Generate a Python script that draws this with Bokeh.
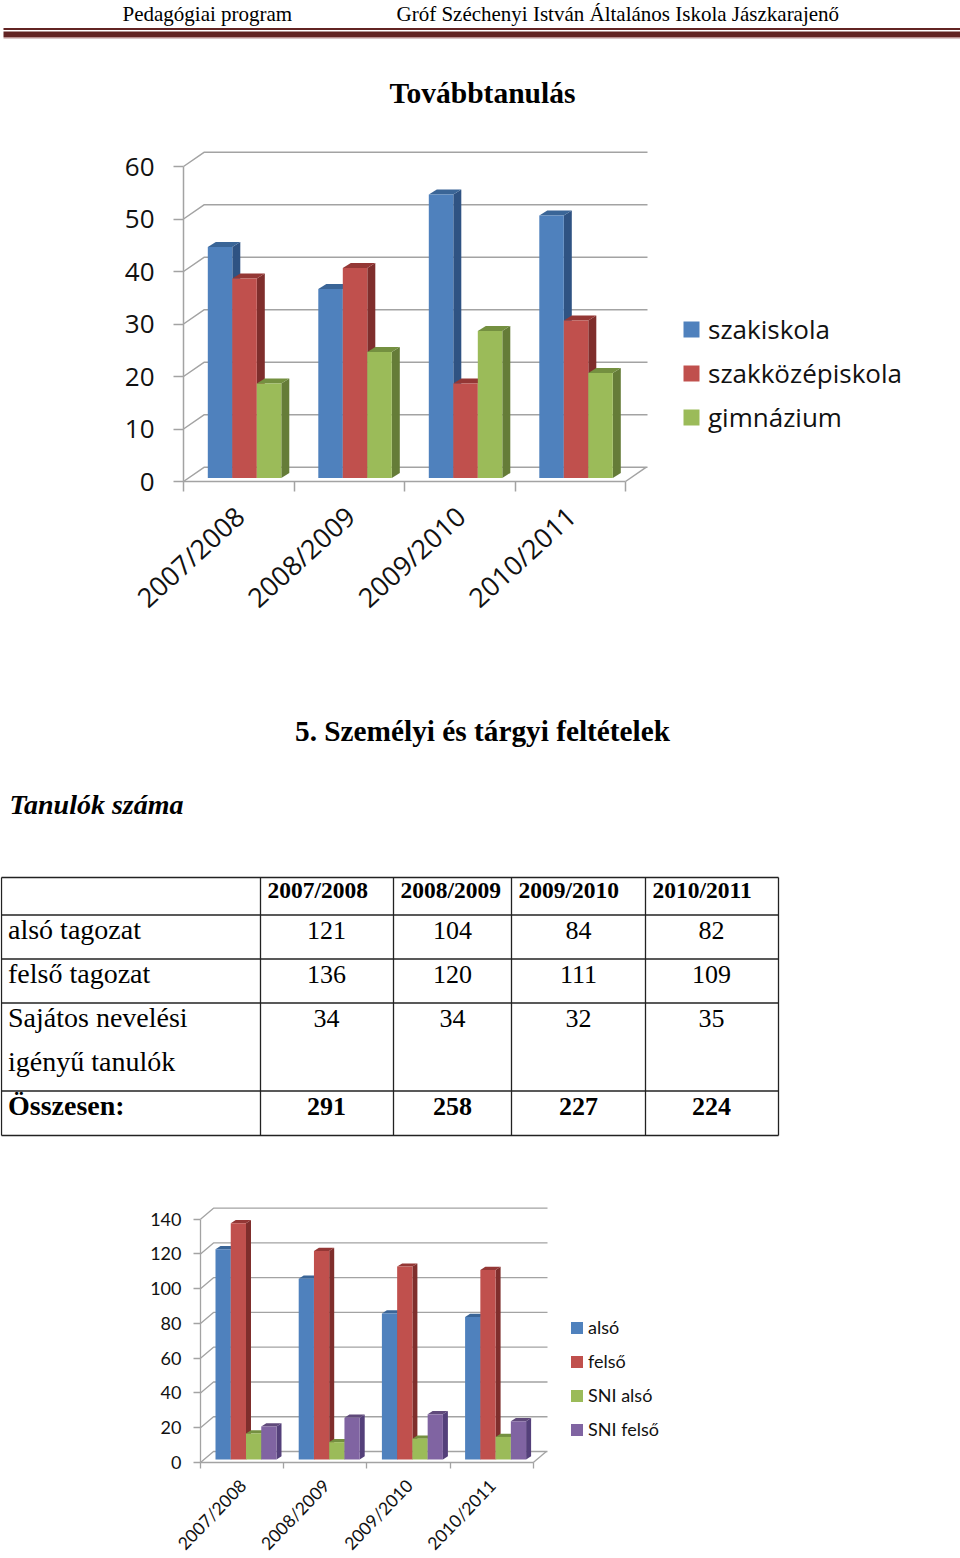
from bokeh.plotting import figure
from bokeh.layouts import column
from bokeh.models import (Range1d, LinearAxis, FixedTicker, Legend, LegendItem)
from bokeh.core.properties import value
from bokeh.embed import file_html
from bokeh.resources import INLINE

# ---- data ----
years = ["2007/2008", "2008/2009", "2009/2010", "2010/2011"]

szakiskola = [44, 36, 54, 50]
szakkozep = [38, 40, 18, 30]
gimnazium = [18, 24, 28, 20]

also = [121, 104, 84, 82]
felso = [136, 120, 111, 109]
sni_also = [15, 10, 12, 13]
sni_felso = [19, 24, 26, 22]

ticks_1 = [0, 10, 20, 30, 40, 50, 60]
ticks_2 = [0, 20, 40, 60, 80, 100, 120, 140]

row_labels = ["alsó tagozat", "felső tagozat", "Sajátos nevelési", "igényű tanulók", "Összesen:"]
t_also = ["121", "104", "84", "82"]
t_felso = ["136", "120", "111", "109"]
t_sni = ["34", "34", "32", "35"]
t_sum = ["291", "258", "227", "224"]

# ---- style ----
FRONT = {"blue": "#4F81BD", "red": "#C0504D", "green": "#9BBB59", "purple": "#8064A2"}
SIDE = {"blue": "#2F5383", "red": "#7F2E2C", "green": "#657C38", "purple": "#54407A"}
TOP = {"blue": "#3A6597", "red": "#943735", "green": "#749040", "purple": "#604A7B"}
GRID = "#A3A3A3"
SERIF = "Liberation Serif"
BASELINE_FIX = 0.35


def canvas(h):
    p = figure(width=960, height=h, x_range=Range1d(0, 960), y_range=Range1d(h, 0),
               output_backend="svg", toolbar_location=None, min_border=0, frame_align=False,
               x_axis_type=None, y_axis_type=None, outline_line_color=None)
    p.grid.visible = False
    return p


def label(p, x, y, txt, size, style="normal", align="left"):
    p.text([x], [y - BASELINE_FIX * size], text=[txt], text_font=value(SERIF), text_font_size=f"{size}px",
           text_font_style=style, text_align=align, text_baseline="alphabetic", text_color="#000000")


def chart(height, left, wall_right, top, bottom, px_cat, px_val, ticks, series, bar_w, bar_start,
          base_px, dx_bar, dy_bar, dx_wall, dy_wall, font, tick_size, cat_size, cat_shift, cat_angle,
          standoff, tick_len, cat_tick, leg_pos, leg_size, leg_h, leg_standoff, grid_w):
    p = figure(width=960, height=height, output_backend="svg", toolbar_location=None,
               x_range=Range1d(-left / px_cat, (960 - left) / px_cat),
               y_range=Range1d(-bottom / px_val, (height - top - bottom) / px_val), frame_align=False,
               x_axis_type=None, y_axis_type=None, outline_line_color=None,
               min_border_left=0, min_border_right=0, min_border_top=top, min_border_bottom=0)
    p.grid.visible = False
    wx, wy = dx_wall / px_cat, dy_wall / px_val
    xmax = (wall_right - left) / px_cat
    # walls
    p.multi_line([[0, wx, xmax] for t in ticks], [[t, t + wy, t + wy] for t in ticks],
                 line_color=GRID, line_width=grid_w)
    p.line([len(years), len(years) + wx], [0, wy], line_color=GRID, line_width=grid_w)
    # bars
    items = []
    base = base_px / px_val
    w = bar_w / px_cat
    bx, by = dx_bar / px_cat, dy_bar / px_val
    for s, (name, vals, col) in enumerate(series):
        lefts = [i + bar_start / px_cat + s * w for i in range(len(vals))]
        rights = [l + w for l in lefts]
        tops = [base + v for v in vals]
        p.patches([[r, r + bx, r + bx, r] for r in rights],
                  [[base, base + by, t + by, t] for t in tops],
                  fill_color=SIDE[col], line_color=None)
        p.patches([[l, l + bx, r + bx, r] for l, r in zip(lefts, rights)],
                  [[t, t + by, t + by, t] for t in tops],
                  fill_color=TOP[col], line_color=None)
        r = p.quad(left=lefts, right=rights, bottom=[base] * len(vals), top=tops,
                   fill_color=FRONT[col], line_color=None)
        items.append(LegendItem(label=name, renderers=[r]))
    # axes
    ya = LinearAxis(ticker=FixedTicker(ticks=ticks), bounds=(ticks[0], ticks[-1]), fixed_location=0,
                    axis_line_color=GRID, axis_line_width=grid_w,
                    major_tick_line_color=GRID, major_tick_line_width=grid_w, major_tick_in=0,
                    major_tick_out=tick_len, minor_tick_line_color=None,
                    major_label_text_font=font, major_label_text_font_size=tick_size,
                    major_label_text_color="#111111", major_label_standoff=standoff[0])
    p.add_layout(ya, "left")
    pos = [i + cat_shift for i in range(len(years))]
    xa = LinearAxis(ticker=FixedTicker(ticks=pos, minor_ticks=list(range(len(years) + 1))),
                    major_label_overrides={q: y for q, y in zip(pos, years)},
                    fixed_location=0, bounds=(0, len(years)),
                    axis_line_color=GRID, axis_line_width=grid_w, major_tick_line_color=None,
                    major_tick_in=0, major_tick_out=0,
                    minor_tick_line_color=GRID, minor_tick_line_width=grid_w, minor_tick_in=0,
                    minor_tick_out=cat_tick, major_label_orientation=cat_angle,
                    major_label_text_font=font, major_label_text_font_size=cat_size,
                    major_label_text_color="#111111", major_label_standoff=standoff[1])
    p.add_layout(xa, "below")
    leg = Legend(items=items, location=leg_pos, padding=0, margin=0, border_line_color=None,
                 background_fill_alpha=0, glyph_width=leg_h, glyph_height=leg_h,
                 spacing=leg_size[1], label_standoff=leg_standoff,
                 label_text_font=font, label_text_font_size=leg_size[0],
                 label_text_baseline="middle", label_text_color="#111111")
    p.add_layout(leg)
    return p


# ---- header ----
head = canvas(130)
label(head, 122, 21, "Pedagógiai program", 21)
label(head, 396, 21, "Gróf Széchenyi István Általános Iskola  Jászkarajenő", 21)
head.quad(left=[3], right=[960], top=[27.5], bottom=[29.5], fill_color="#622423", line_color=None)
head.quad(left=[3], right=[960], top=[31], bottom=[36.5], fill_color="#622423", line_color=None)
head.quad(left=[3], right=[960], top=[36.5], bottom=[38], fill_color="#B89090", line_color=None)
label(head, 482, 103, "Továbbtanulás", 29.5, "bold", "center")

# ---- chart 1 ----
c1 = chart(560, 183, 647, 20, 209, 110.5, 5.25, ticks_1,
           [("szakiskola", szakiskola, "blue"), ("szakközépiskola", szakkozep, "red"),
            ("gimnázium", gimnazium, "green")],
           24.5, 24.3, 3.4, 8, 5.2, 20.5, 14.2,
           "Open Sans", "26px", "27px", 0.508, 0.74, (19, 20), 10, 10, (681, 255), ("26px", 8), 20, 7, 1.5)

# ---- section text and table ----
mid = canvas(505)
O = 690
label(mid, 482, 741 - O, "5. Személyi és tárgyi feltételek", 29.3, "bold", "center")
label(mid, 9, 814 - O, "Tanulók száma", 28, "bold italic")

col_edges = [1, 260, 393, 511, 645, 778]
row_edges = [877, 914.5, 958.5, 1002.5, 1090.5, 1135]
mid.multi_line([[x, x] for x in col_edges], [[row_edges[0] - O, row_edges[-1] - O]] * len(col_edges),
               line_color="#222222", line_width=1.3)
mid.multi_line([[col_edges[0], col_edges[-1]]] * len(row_edges), [[y - O, y - O] for y in row_edges],
               line_color="#222222", line_width=1.3)
for i, y in enumerate(years):
    label(mid, col_edges[i + 1] + 7, 898 - O, y, 23.5, "bold")
base_lines = [939, 983, 1027, 1071, 1115]
for name, b, st in zip(row_labels, base_lines, ["normal"] * 4 + ["bold"]):
    label(mid, 7.5, b - O, name, 28, st)
centers = [326, 452, 578, 711]
for vals, b, st in [(t_also, 939, "normal"), (t_felso, 983, "normal"), (t_sni, 1027, "normal"), (t_sum, 1115, "bold")]:
    for c, v in zip(centers, vals):
        label(mid, c, b - O, v, 26, st, "center")

# ---- chart 2 ----
c2 = chart(363, 200, 547, 10, 96, 83.2, 1.738, ticks_2,
           [("alsó", also, "blue"), ("felső", felso, "red"),
            ("SNI alsó", sni_also, "green"), ("SNI felső", sni_felso, "purple")],
           15.25, 15, 3, 5, 3.2, 13, 11,
           "Lato", "18px", "17.5px", 0.51, 0.8, (12, 14), 7, 6, (569, 118), ("18px", 12), 15, 4, 1.3)

page = column(head, c1, mid, c2, spacing=0, margin=0)
open("out.html", "w").write(file_html(page, INLINE))
